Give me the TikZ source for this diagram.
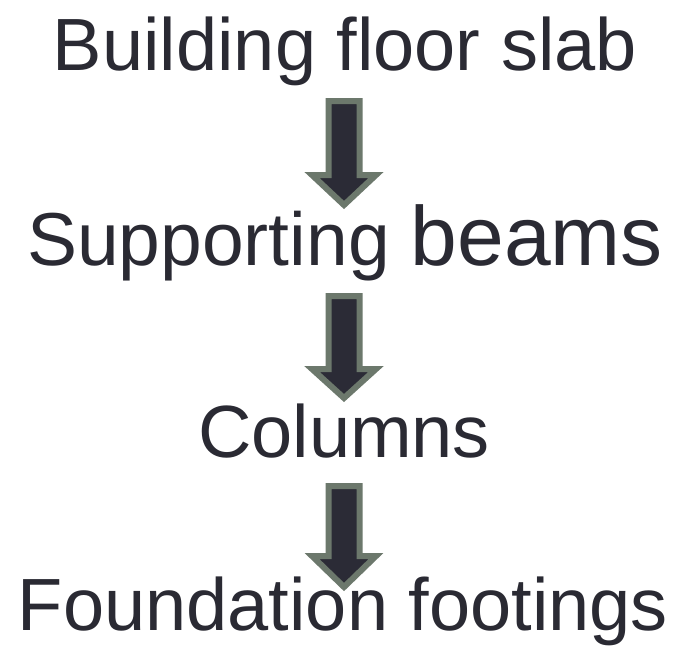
\documentclass[tikz,border=0pt]{standalone}
\usepackage{fontspec}
\setmainfont{Liberation Sans}
\definecolor{txt}{HTML}{2A2A33}
\definecolor{afill}{HTML}{2B2B36}
\definecolor{aedge}{HTML}{6C786C}
\tikzset{
  lbl/.style={anchor=base, inner sep=0pt, text=txt, font=\fontsize{74}{74}\selectfont},
  blockarrow/.style={fill=afill, draw=aedge, line width=6pt, line join=miter}
}
\newcommand{\downarrowshape}[3]{%
  \path[blockarrow] (344-15.5,#1+3) -- (344+15.5,#1+3) -- (344+15.5,#2+3) -- (344+32,#2+3)
    -- (344,#3-5) -- (344-32,#2+3) -- (344-15.5,#2+3) -- cycle;}
\begin{document}
\begin{tikzpicture}[x=1pt,y=-1pt]
\useasboundingbox (0,0) rectangle (677,646);
\node[lbl] (slab) at (345,70) {Building floor slab};
\node[lbl] (beams) at (345,265) {\fontsize{75}{75}\selectfont Supporting \fontsize{84}{84}\selectfont beams};
\node[lbl] (cols) at (344,457) {Columns};
\node[lbl] (found) at (343,630) {Foundation footings};
\downarrowshape{98}{172}{210}
\downarrowshape{293}{366}{403}
\downarrowshape{483}{553}{592}
\end{tikzpicture}
\end{document}
